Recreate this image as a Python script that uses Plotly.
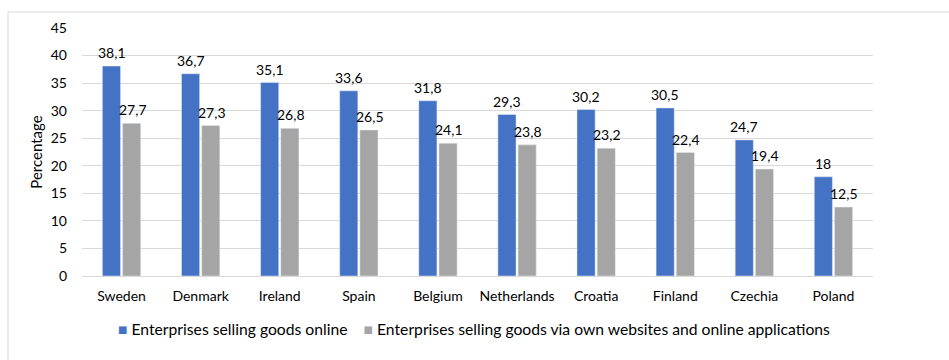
import plotly.graph_objects as go

countries = ["Sweden", "Denmark", "Ireland", "Spain", "Belgium", "Netherlands",
             "Croatia", "Finland", "Czechia", "Poland"]
online = [38.1, 36.7, 35.1, 33.6, 31.8, 29.3, 30.2, 30.5, 24.7, 18]
own_web = [27.7, 27.3, 26.8, 26.5, 24.1, 23.8, 23.2, 22.4, 19.4, 12.5]
name1 = "Enterprises selling goods online"
name2 = "Enterprises selling goods via own websites and online applications"
C1, C2 = "#4472C4", "#A5A5A5"


def fmt(v):
    return ("%g" % v).replace(".", ",")


FONT = "Lato, Carlito, Calibri, sans-serif"

fig = go.Figure()
fig.add_trace(go.Bar(x=countries, y=online, name=name1, marker_color=C1))
fig.add_trace(go.Bar(x=countries, y=own_web, name=name2, marker_color=C2))

L, R, T, B = 82, 76, 28, 84
W, H = 949, 360
pw, ph = W - L - R, H - T - B

ann = []
for c, v1, v2 in zip(countries, online, own_web):
    ann.append(dict(x=c, y=v1, text=fmt(v1), xshift=-10, yshift=3, showarrow=False,
                    xref="x", yref="y", yanchor="bottom",
                    font=dict(size=14, family=FONT, color="#000")))
    ann.append(dict(x=c, y=v2, text=fmt(v2), xshift=11, yshift=3, showarrow=False,
                    xref="x", yref="y", yanchor="bottom",
                    font=dict(size=14, family=FONT, color="#000")))

legend_text = (f'<span style="color:{C1}">■</span> {name1}'
               f'    <span style="color:{C2}">■</span> {name2}')
ann.append(dict(x=(474 - L) / pw, y=(H - B - 329) / ph, xref="paper", yref="paper",
                text=legend_text, showarrow=False, xanchor="center", yanchor="middle",
                font=dict(size=15.7, family=FONT, color="#000")))

fig.update_layout(
    width=W, height=H,
    margin=dict(l=L, r=R, t=T, b=B, pad=0, autoexpand=False),
    paper_bgcolor="white", plot_bgcolor="white",
    barmode="group", bargap=0.49, bargroupgap=0.1,
    font=dict(family=FONT, size=14, color="#000000"),
    showlegend=False,
    annotations=ann,
)
fig.update_yaxes(range=[0, 45], dtick=5, showgrid=True, gridcolor="#D9D9D9",
                 gridwidth=1, zeroline=False, showline=False,
                 ticks="", ticklabelstandoff=14, automargin=False,
                 tickfont=dict(size=14, family=FONT, color="#000000"),
                 title=dict(text="Percentage", standoff=4,
                            font=dict(size=15, family=FONT, color="#000000")))
fig.update_xaxes(showline=True, linecolor="#D9D9D9", linewidth=1, ticks="",
                 automargin=False,
                 tickfont=dict(size=14, family=FONT, color="#000000"),
                 ticklabelstandoff=7)

# outer chart frame
fig.add_shape(type="rect", xref="paper", yref="paper",
              x0=(8 - L) / pw, x1=(W + 5 - L) / pw,
              y0=-(H + 5 - T - ph) / ph, y1=(H - 12 - B) / ph,
              line=dict(color="#D9D9D9", width=1), fillcolor="rgba(0,0,0,0)",
              layer="below")

fig.write_html("out.html")
